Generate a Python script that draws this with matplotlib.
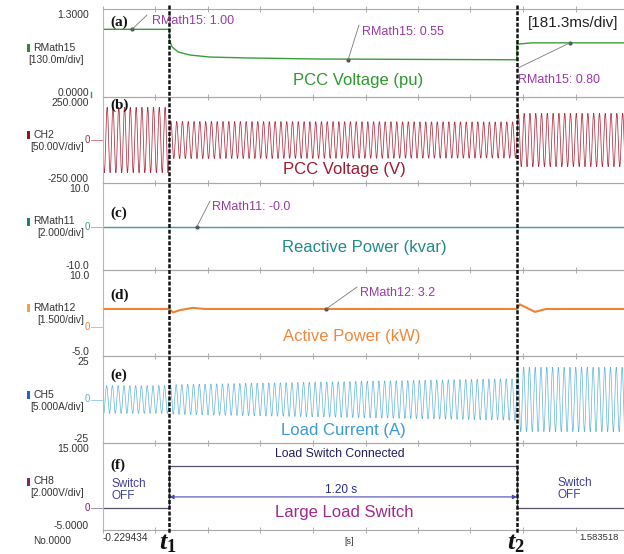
import numpy as np
import matplotlib
matplotlib.use('Agg')
import matplotlib.pyplot as plt
import matplotlib.transforms as mtransforms
from matplotlib.lines import Line2D
from matplotlib.patches import Rectangle

plt.rcParams['font.family'] = ['Liberation Sans', 'DejaVu Sans']
plt.rcParams['mathtext.fontset'] = 'custom'
plt.rcParams['mathtext.rm'] = 'Liberation Serif:bold'
plt.rcParams['mathtext.it'] = 'Liberation Serif:bold:italic'
plt.rcParams['mathtext.bf'] = 'Liberation Serif:bold'

# ---------------- data ----------------
t_start, t_end = -0.229434, 1.583518
time_per_div = 0.1813
t_on, t_off = 0.0, 1.20
line_freq_hz = 50.0

# (a) PCC voltage RMS (pu)
pu_times = [t_start, 0.0, 0.0, 0.009, 0.030, 0.071, 0.140, 0.278, 0.520, 1.2, 1.2, 1.25, t_end]
pu_vals = [1.00, 1.00, 0.84, 0.74, 0.665, 0.62, 0.59, 0.576, 0.561, 0.55, 0.78, 0.80, 0.80]

# (b) PCC voltage waveform: peak amplitude per segment (V)
seg_edges = [t_start, t_on, t_off, t_end]
volt_amp_start = [190.0, 108.0, 155.0]
volt_amp_end = [190.0, 105.0, 155.0]

# (c) reactive power (kvar)
q_times = [t_start, t_end]
q_vals = [0.0, 0.0]

# (d) active power (kW)
p_times = [t_start, 0.0, 0.012, 0.036, 0.081, 0.123, 1.2, 1.21, 1.262, 1.30, t_end]
p_vals = [3.2, 3.2, 2.6, 3.0, 3.4, 3.2, 3.2, 4.0, 2.7, 3.2, 3.2]

# (e) load current waveform: peak amplitude per segment (A)
cur_amp_start = [8.0, 8.5, 18.5]
cur_amp_end = [8.0, 12.0, 18.5]

# (f) switch signal (V)
sw_times = [t_start, 0.0, 0.0, 1.2, 1.2, t_end]
sw_vals = [0.0, 0.0, 9.7, 9.7, 0.0, 0.0]

channel_names = ['RMath15', 'CH2', 'RMath11', 'RMath12', 'CH5', 'CH8']
channel_scales = ['[130.0m/div]', '[50.00V/div]', '[2.000/div]', '[1.500/div]', '[5.000A/div]', '[2.000V/div]']
range_top_labels = ['1.3000', '250.000', '10.0', '10.0', '25', '15.000']
range_bottom_labels = ['0.0000', '-250.000', '-10.0', '-5.0', '-25', '-5.0000']
y_ranges = [(0, 1.3), (-250, 250), (-10, 10), (-5, 10), (-25, 25), (-5, 15)]
panel_tags = ['(a)', '(b)', '(c)', '(d)', '(e)', '(f)']
panel_titles = ['PCC Voltage (pu)', 'PCC Voltage (V)', 'Reactive Power (kvar)',
                'Active Power (kW)', 'Load Current (A)', 'Large Load Switch']

# ---------------- styles ----------------
W, H = 624, 554
trace_colors = ['#3c9c3c', '#b02c40', '#3aa0a0', '#f08232', '#62b4d8', '#55506e']
title_colors = ['#2e9a2e', '#a01a30', '#238a8a', '#f0883c', '#3a9ad8', '#a02a8c']
marker_colors = ['#2e8b2e', '#8b1a1a', '#1a8080', '#f0a050', '#2060d0', '#8a2070']
ann_color = '#9a3aa8'
bounds_px = [9, 97, 183, 270, 356, 443, 530]
left_px, width_px = 103, 525

def fx(x):
    return x / W

def fy(y):
    return 1 - y / H

fig = plt.figure(figsize=(W / 100, H / 100), dpi=100)
axes = []
for i in range(6):
    top, bot = bounds_px[i], bounds_px[i + 1]
    ax = fig.add_axes([fx(left_px), fy(bot), width_px / W, (bot - top) / H])
    ax.set_xlim(t_start, t_end)
    ax.set_ylim(*y_ranges[i])
    for s in ['top', 'bottom']:
        ax.spines[s].set_color('#a8a8a8')
        ax.spines[s].set_linewidth(0.8)
    ax.spines['left'].set_color('#b8b8b8')
    ax.spines['left'].set_linewidth(0.8)
    ax.spines['right'].set_visible(False)
    ax.set_xticks([t_start + k * time_per_div for k in range(11)])
    ax.tick_params(axis='x', direction='inout', length=4, width=0.6, color='#a0a0a0',
                   labelbottom=False, top=(i == 0))
    ax.set_yticks([])
    ax.patch.set_alpha(0)
    axes.append(ax)

t = np.linspace(t_start, t_end, 26000)

def envelope(tt, edges, a0, a1):
    env = np.zeros_like(tt)
    for k in range(len(a0)):
        if k == len(a0) - 1:
            m = (tt >= edges[k]) & (tt <= edges[k + 1])
        else:
            m = (tt >= edges[k]) & (tt < edges[k + 1])
        frac = (tt[m] - edges[k]) / (edges[k + 1] - edges[k])
        env[m] = a0[k] + (a1[k] - a0[k]) * frac
    return env

v_wave = envelope(t, seg_edges, volt_amp_start, volt_amp_end) * np.sin(2 * np.pi * line_freq_hz * t)
i_wave = envelope(t, seg_edges, cur_amp_start, cur_amp_end) * np.sin(2 * np.pi * line_freq_hz * t + 0.6)

axes[0].plot(pu_times, pu_vals, color=trace_colors[0], lw=1.0)
axes[1].plot(t, v_wave, color=trace_colors[1], lw=0.55)
axes[2].plot(q_times, q_vals, color=trace_colors[2], lw=1.0)
axes[3].plot(p_times, p_vals, color=trace_colors[3], lw=1.5)
axes[4].plot(t, i_wave, color=trace_colors[4], lw=0.5)
axes[5].plot(sw_times, sw_vals, color=trace_colors[5], lw=0.9)

# zero markers
for i in range(1, 6):
    ax = axes[i]
    tr = mtransforms.blended_transform_factory(ax.transAxes, ax.transData)
    ax.text(-0.024, 0, '0', transform=tr, ha='right', va='center', fontsize=7,
            color=trace_colors[i] if i != 5 else marker_colors[5], clip_on=False)
    ax.plot([-0.023, 0], [0, 0], transform=tr, color=trace_colors[i], lw=0.6, clip_on=False, alpha=0.7)
tr0 = mtransforms.blended_transform_factory(axes[0].transAxes, axes[0].transData)
axes[0].plot([-0.023, -0.023], [0.0, 0.08], transform=tr0, color=trace_colors[0], lw=1.0, clip_on=False)

# left-side labels
for i in range(6):
    top, bot = bounds_px[i], bounds_px[i + 1]
    fig.text(fx(89), fy(top + 6), range_top_labels[i], ha='right', va='center', fontsize=7.5, color='#333333')
    fig.text(fx(89), fy(bot - 4), range_bottom_labels[i], ha='right', va='center', fontsize=7.5, color='#333333')
    mid = (top + bot) / 2
    fig.text(fx(33), fy(mid - 5), channel_names[i], ha='left', va='center', fontsize=7.5, color='#333333')
    fig.text(fx(84), fy(mid + 7), channel_scales[i], ha='right', va='center', fontsize=7.3, color='#333333')
    fig.add_artist(Rectangle((fx(27), fy(mid - 1)), 3 / W, 8 / H, transform=fig.transFigure,
                             color=marker_colors[i], lw=0))

# panel tags
tag_y = [22, 105, 213, 295, 375, 465]
for i in range(6):
    fig.text(fx(110), fy(tag_y[i]), panel_tags[i], ha='left', va='center', fontsize=11,
             family='Liberation Serif', weight='bold', color='#111111')

# panel titles
title_pos = [(293, 80), (283, 170), (282, 248), (283, 337), (281, 430), (275, 513)]
for i in range(6):
    fig.text(fx(title_pos[i][0]), fy(title_pos[i][1]), panel_titles[i], ha='left', va='center',
             fontsize=12, color=title_colors[i])

# measurement annotations
annots = [
    (0, -0.129, 1.00, (147, 15), (152, 21), 'RMath15: 1.00'),
    (0, 0.617, 0.55, (359, 25), (362, 32), 'RMath15: 0.55'),
    (0, 1.383, 0.80, (518, 68), (518, 80), 'RMath15: 0.80'),
    (2, 0.095, 0.0, (210, 201), (212, 207), 'RMath11: -0.0'),
    (3, 0.541, 3.2, (357, 287), (360, 293), 'RMath12: 3.2'),
]
for idx, tx, vy, lead, txt_pos, label in annots:
    ax = axes[idx]
    ax.annotate('', xy=(tx, vy), xytext=(lead[0], H - lead[1]), textcoords='figure pixels',
                arrowprops=dict(arrowstyle='-', color='#7a7a7a', lw=0.6, shrinkA=0, shrinkB=0))
    ax.plot([tx], [vy], marker='o', ms=2, color='#555555')
    fig.text(fx(txt_pos[0]), fy(txt_pos[1]), label, ha='left', va='center', fontsize=9, color=ann_color)

fig.text(fx(528), fy(23), '[181.3ms/div]', ha='left', va='center', fontsize=11, color='#222222')

# switch panel annotations
axes[5].annotate('', xy=(t_on, 2.6), xytext=(t_off, 2.6),
                 arrowprops=dict(arrowstyle='<|-|>', mutation_scale=6, color='#4a4ab0', lw=0.8,
                                 shrinkA=0, shrinkB=0))
fig.text(fx(340), fy(454), 'Load Switch Connected', ha='center', va='center', fontsize=8.8, color='#1e1e60')
fig.text(fx(341), fy(490), '1.20 s', ha='center', va='center', fontsize=8.5, color='#2a2a90')
fig.text(fx(112), fy(490), 'Switch\nOFF', ha='left', va='center', fontsize=8.5, color='#40409a', linespacing=1.0)
fig.text(fx(557), fy(489), 'Switch\nOFF', ha='left', va='center', fontsize=8.5, color='#40409a', linespacing=1.0)

# event dashed lines
trx = mtransforms.blended_transform_factory(axes[0].transData, fig.transFigure)
for te in (t_on, t_off):
    fig.add_artist(Line2D([te, te], [fy(5), fy(534)], transform=trx, color='#111111', lw=1.8,
                          linestyle=(0, (1.6, 0.7)), clip_on=False))

fig.text(fx(168), fy(543), r'$t_1$', ha='center', va='center', fontsize=19, color='#111111')
fig.text(fx(516), fy(543), r'$t_2$', ha='center', va='center', fontsize=19, color='#111111')

# bottom time labels
fig.text(fx(103), fy(538), '-0.229434', ha='left', va='center', fontsize=7.2, color='#333333')
fig.text(fx(33), fy(541), 'No.0000', ha='left', va='center', fontsize=7.2, color='#333333')
fig.text(fx(349), fy(541), '[s]', ha='center', va='center', fontsize=6.5, color='#333333')
fig.text(fx(579), fy(537), '1.583518', ha='left', va='center', fontsize=6.8, color='#333333')

fig.savefig('out.png', dpi=100)
